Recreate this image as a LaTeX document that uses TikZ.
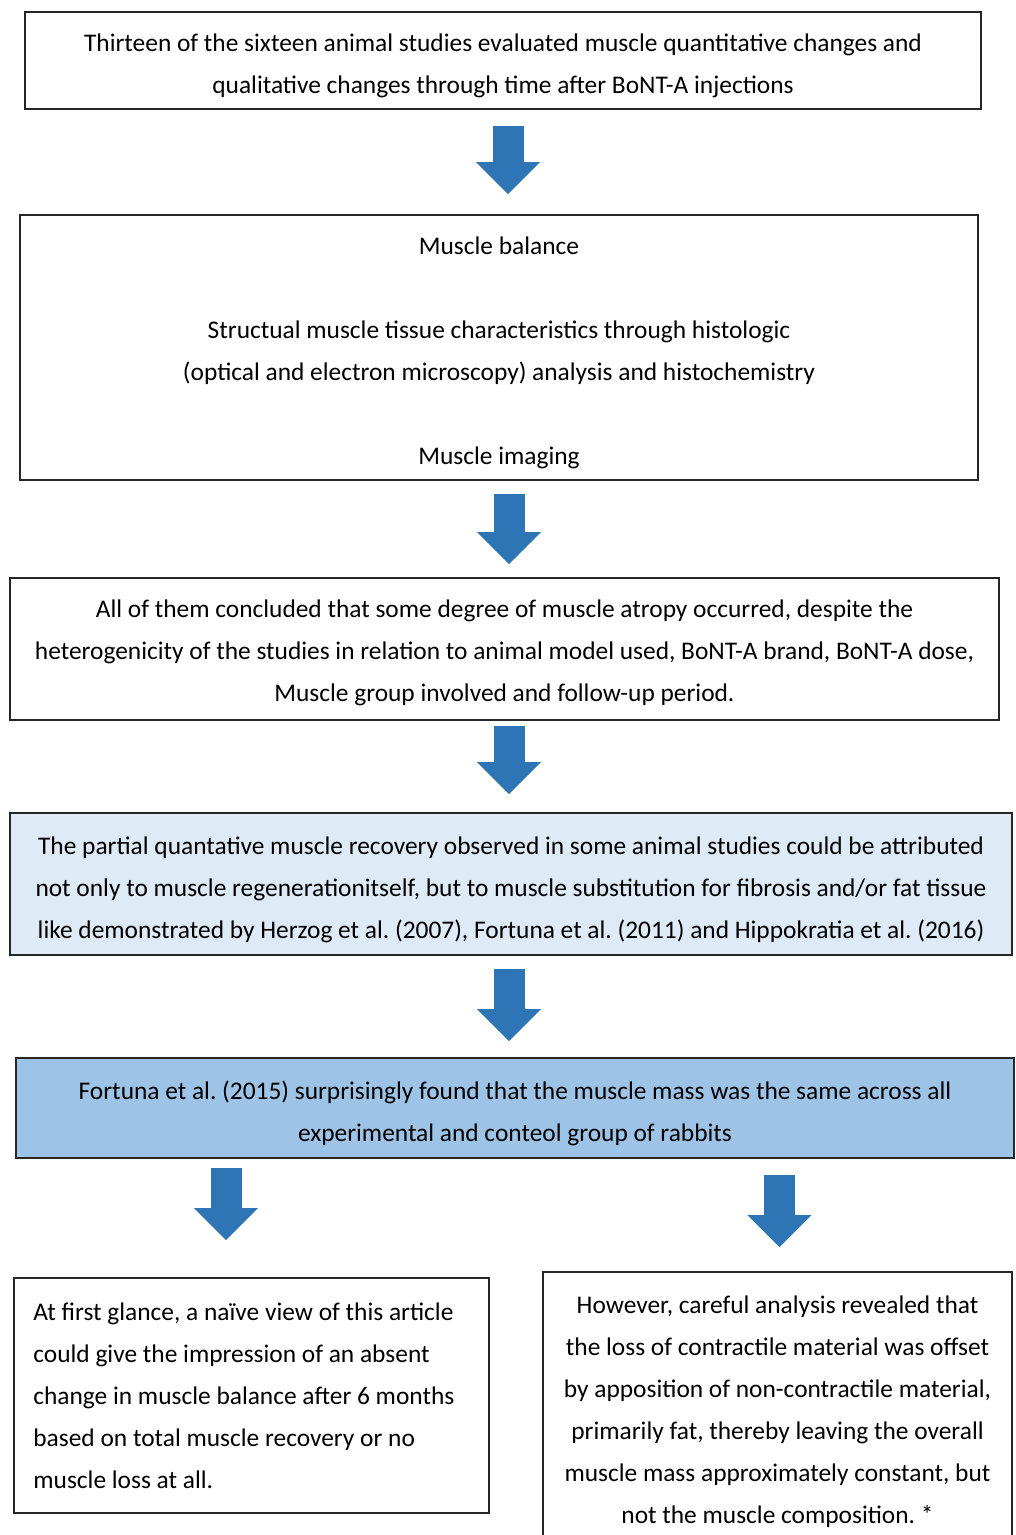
\documentclass[tikz,border=0pt]{standalone}
\usepackage{fontspec}
\setmainfont{Carlito}
\frenchspacing
\usetikzlibrary{arrows.meta}
\definecolor{arrowblue}{HTML}{2E75B6}
\definecolor{paleblue}{HTML}{DEEBF7}
\definecolor{midblue}{HTML}{9DC3E6}
\tikzset{
  frame/.style={draw=black!85, line width=1.6pt, rectangle, inner sep=0pt},
  txt/.style={inner sep=0pt, align=center, font=\fontsize{25.4}{42}\selectfont\frenchspacing},
  blockarrow/.style={draw=arrowblue, line width=31pt,
    -{Triangle[width=62pt,length=32pt]}, arrowblue}
}
\begin{document}
\begin{tikzpicture}[x=1pt,y=-1pt]
\useasboundingbox (0,0) rectangle (1016,1535);
\node[frame, minimum width=956pt, minimum height=97pt] (b1) at (503,60.5) {};
\node[txt, yshift=-5pt] (t1) at (b1.center)
  {Thirteen of the sixteen animal studies evaluated muscle quantitative changes and\\
   qualitative changes through time after BoNT-A injections};
\node[frame, minimum width=958pt, minimum height=265pt] (b2) at (499,347.5) {};
\node[txt, yshift=-5pt] (t2) at (b2.center)
  {Muscle balance\\[42pt]
   Structual muscle tissue characteristics through histologic\\
   (optical and electron microscopy) analysis and histochemistry\\[42pt]
   Muscle imaging};
\node[frame, minimum width=989pt, minimum height=142pt] (b3) at (504.5,649) {};
\node[txt, yshift=-4pt] (t3) at (b3.center)
  {All of them concluded that some degree of muscle atropy occurred, despite the\\
   heterogenicity of the studies in relation to animal model used, BoNT-A brand, BoNT-A dose,\\
   Muscle group involved and follow-up period.};
\node[frame, fill=paleblue, minimum width=1002pt, minimum height=142pt] (b4) at (511,884) {};
\node[txt, yshift=-6pt] (t4) at (b4.center)
  {The partial quantative muscle recovery observed in some animal studies could be attributed\\
   not only to muscle regenerationitself, but to muscle substitution for fibrosis and/or fat tissue\\
   like demonstrated by Herzog et al. (2007), Fortuna et al. (2011) and Hippokratia et al. (2016)};
\node[frame, fill=midblue, minimum width=998pt, minimum height=100pt] (b5) at (515,1108) {};
\node[txt, yshift=-5pt] (t5) at (b5.center)
  {Fortuna et al. (2015) surprisingly found that the muscle mass was the same across all\\
   experimental and conteol group of rabbits};
\node[frame, minimum width=475pt, minimum height=235pt] (bl) at (251.5,1395.5) {};
\node[txt, align=flush left, anchor=west] (tl) at ([xshift=20pt]bl.west)
  {At first glance, a naïve view of this article\\
   could give the impression of an absent\\
   change in muscle balance after 6 months\\
   based on total muscle recovery or no\\
   muscle loss at all.};
\node[frame, minimum width=469pt, minimum height=273pt] (br) at (777.5,1408.5) {};
\node[txt, yshift=-3pt] (tr) at (br.center)
  {However, careful analysis revealed that\\
   the loss of contractile material was offset\\
   by apposition of non-contractile material,\\
   primarily fat, thereby leaving the overall\\
   muscle mass approximately constant, but\\
   not the muscle composition. *};
\draw[blockarrow] ([xshift=5pt,yshift=-16pt]b1.south) -- ([xshift=9pt,yshift=20pt]b2.north);
\draw[blockarrow] ([xshift=10pt,yshift=-13pt]b2.south) -- ([xshift=4.5pt,yshift=13pt]b3.north);
\draw[blockarrow] ([xshift=4.5pt,yshift=-5pt]b3.south) -- ([xshift=-2pt,yshift=18pt]b4.north);
\draw[blockarrow] ([xshift=-2pt,yshift=-13pt]b4.south) -- ([xshift=-6pt,yshift=16pt]b5.north);
\draw[blockarrow] ([xshift=-289pt,yshift=-9pt]b5.south) -- ([xshift=-25.5pt,yshift=37pt]bl.north);
\draw[blockarrow] ([xshift=264.5pt,yshift=-16pt]b5.south) -- ([xshift=2pt,yshift=24pt]br.north);
\end{tikzpicture}
\end{document}
